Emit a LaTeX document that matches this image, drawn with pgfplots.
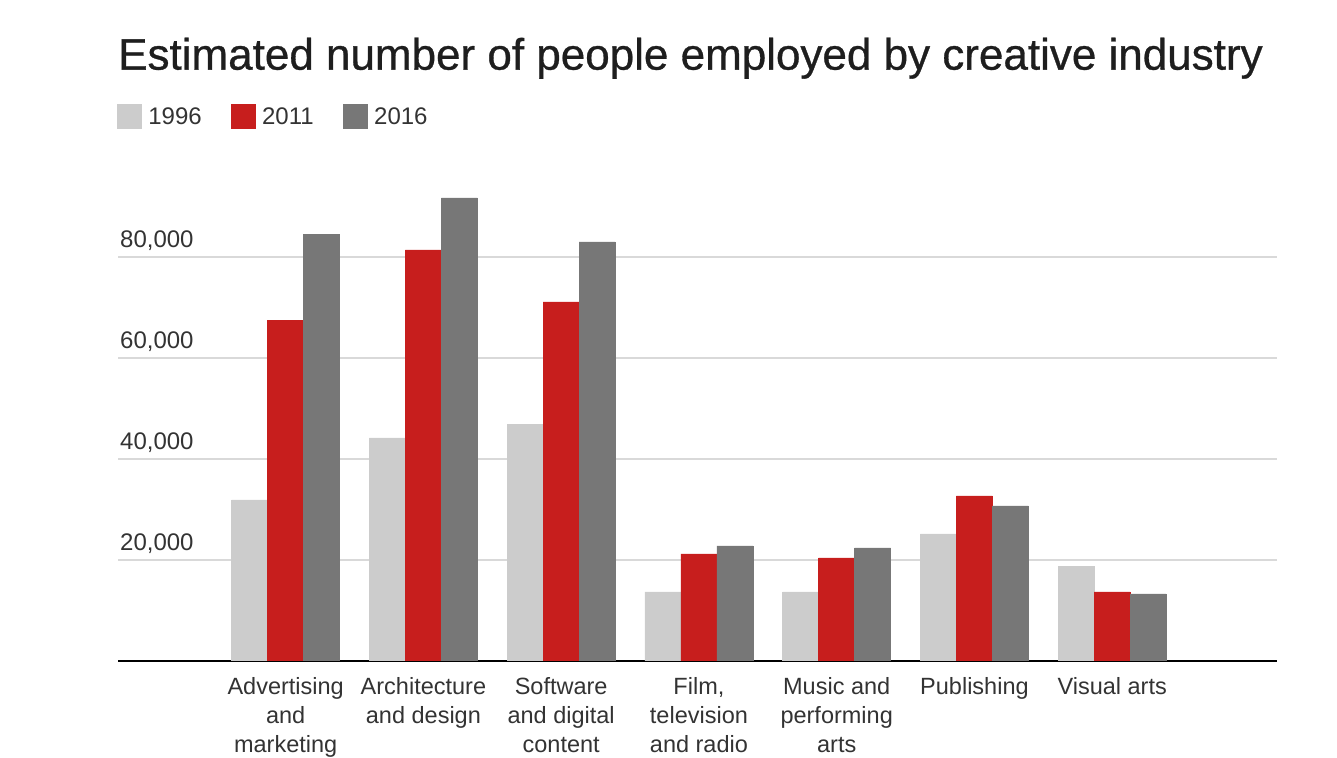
\documentclass[border=0pt]{standalone}
\usepackage{pgfplots}
\pgfplotsset{compat=1.18}
\usepackage{fontspec}
\setmainfont{Liberation Sans}
\newfontfamily\titlefont[FakeBold=0.7]{Liberation Sans}
\definecolor{cA}{HTML}{CCCCCC}
\definecolor{cB}{HTML}{C71E1D}
\definecolor{cC}{HTML}{777777}
\definecolor{gridc}{HTML}{D9D9D9}
\definecolor{txt}{HTML}{333333}
\definecolor{ttl}{HTML}{1E1E1E}
\begin{document}
\begin{tikzpicture}
\useasboundingbox (0,0) rectangle (1337bp,758bp);
\begin{axis}[
  at={(118bp,97bp)}, anchor=south west,
  scale only axis, width=1159bp, height=464.6bp,
  ymin=0, ymax=92000, xmin=-1.217, xmax=7.196,
  ybar=0pt, bar width=36bp,
  axis x line*=bottom, axis y line*=left,
  y axis line style={draw=none},
  x axis line style={black, line width=2bp},
  ytick={20000,40000,60000,80000},
  ymajorgrids, grid style={gridc, line width=1.5bp},
  major tick length=0pt,
  xtick={0,1,2,3,4,5,6},
  xticklabels={{Advertising\\and\\marketing},{Architecture\\and design},{Software\\and digital\\content},{Film,\\television\\and radio},{Music and\\performing\\arts},{Publishing},{Visual arts}},
  xticklabel style={anchor=north, inner sep=0pt, yshift=-16bp, align=center, font=\fontsize{23.5bp}{29bp}\selectfont, text=txt},
  yticklabel style={anchor=base west, inner sep=0pt, xshift=2bp, yshift=10bp, font=\fontsize{24bp}{28bp}\selectfont, text=txt},
  /pgf/number format/assume math mode=true,
  /pgf/number format/.cd, fixed, 1000 sep={,}, /pgfplots/.cd,
  scaled y ticks=false,
  title={Estimated number of people employed by creative industry},
  title style={at={(0,1.26)}, anchor=base west, inner sep=0pt, font=\titlefont\fontsize{44bp}{54bp}\selectfont, text=ttl},
  legend columns=3,
  legend style={at={(-0.0009,1.1989)}, anchor=north west, draw=none, fill=none, inner sep=0pt, outer sep=0pt,
    nodes={inner sep=0pt, font=\fontsize{24bp}{28bp}\selectfont, text=txt},
    /tikz/every odd column/.append style={column sep=7bp},
    /tikz/every even column/.append style={column sep=29bp}},
  legend image code/.code={\fill[#1] (0bp,-11bp) rectangle (24bp,13bp);},
]
\addplot[fill=cA, draw=cA, line width=0.4bp] coordinates {(0,31900) (1,44200) (2,46900) (3,13700) (4,13700) (5,25150) (6,18800)};
\addplot[fill=cB, draw=cB, line width=0.4bp] coordinates {(0,67500) (1,81400) (2,71100) (3,21200) (4,20400) (5,32700) (6,13700)};
\addplot[fill=cC, draw=cC, line width=0.4bp] coordinates {(0,84500) (1,91700) (2,83000) (3,22800) (4,22400) (5,30700) (6,13300)};
\legend{1996,2011,2016}
\end{axis}
\end{tikzpicture}
\end{document}
